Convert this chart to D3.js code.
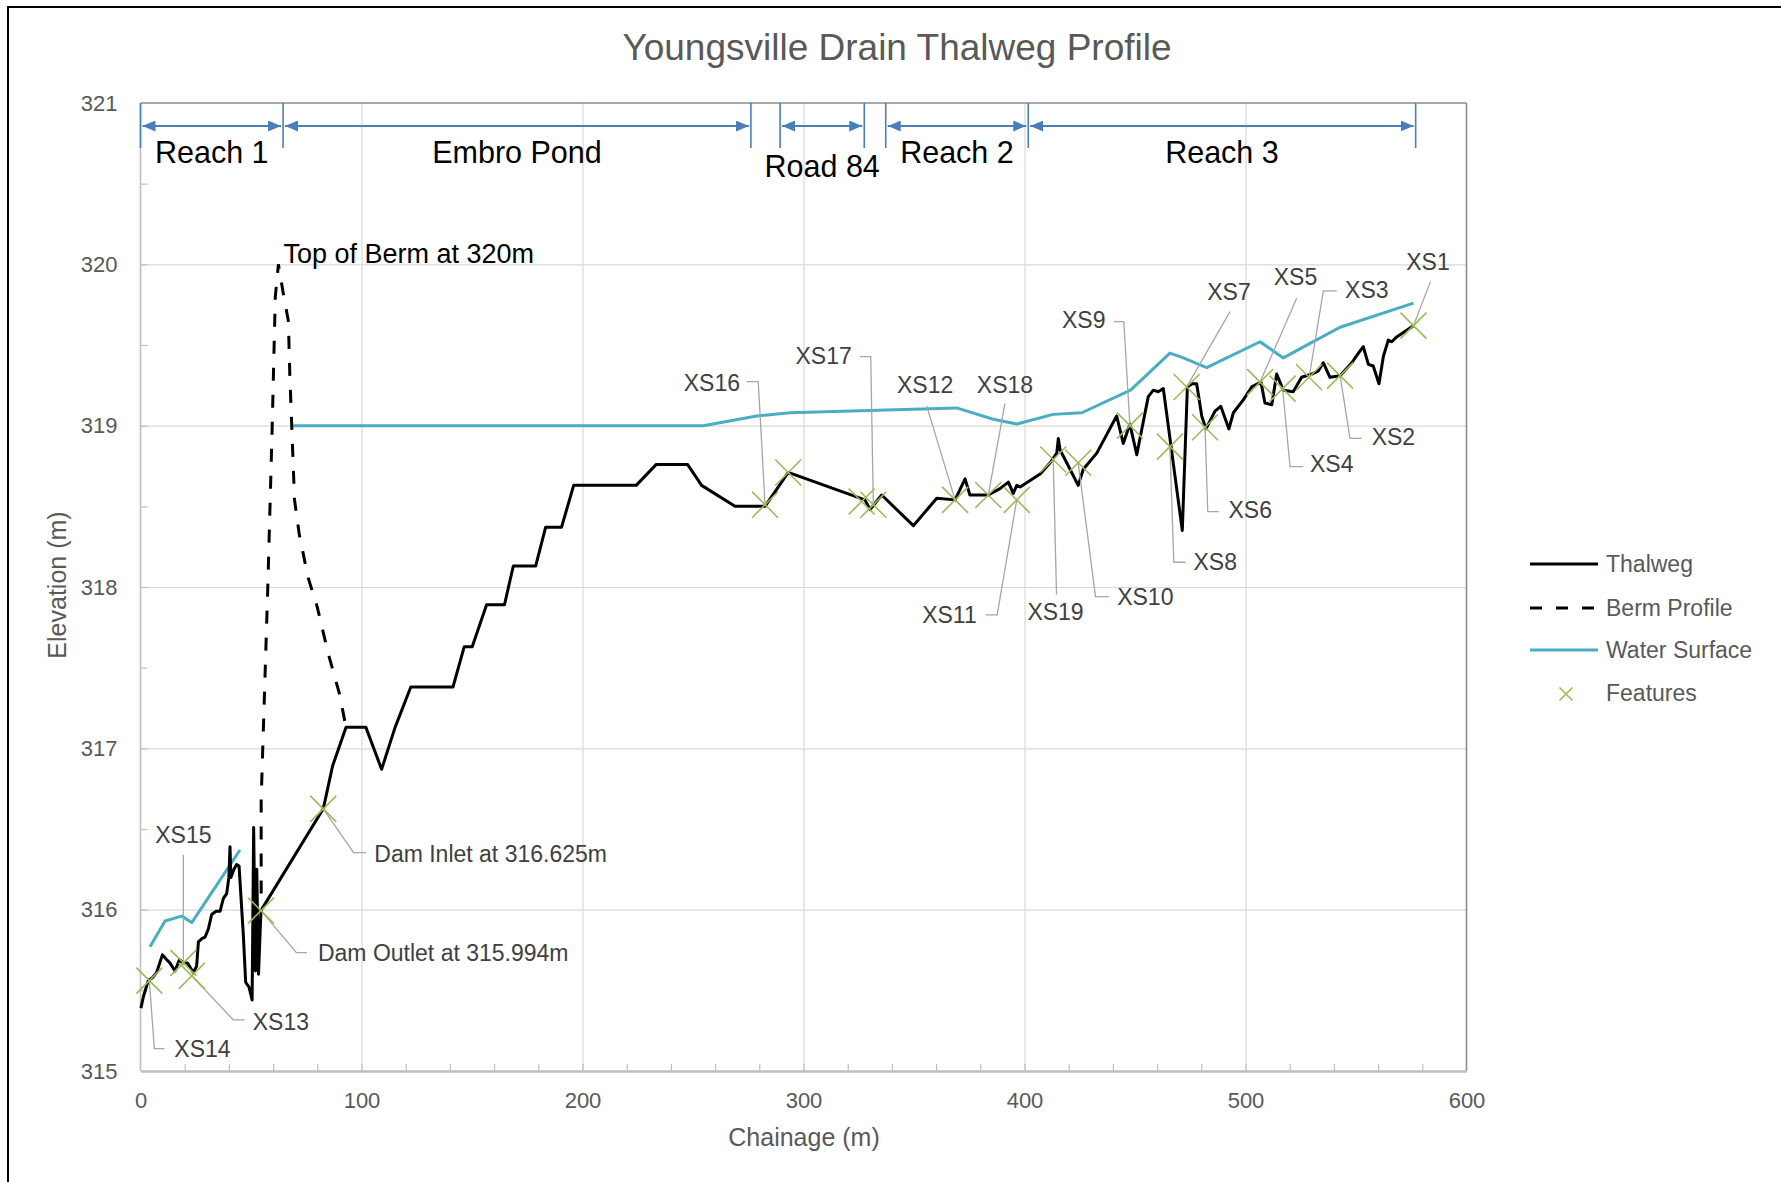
<!DOCTYPE html>
<html>
<head>
<meta charset="utf-8">
<script src="https://cdn.jsdelivr.net/npm/d3@7"></script>
<style>
  html, body { margin: 0; padding: 0; background: #fff; overflow: hidden; }
  svg { display: block; }
  text { font-family: "Liberation Sans", Arial, Helvetica, sans-serif; }
</style>
</head>
<body>
<svg id="chart" width="1781" height="1182"></svg>
<script>
// ---- Data -------------------------------------------------------------
// Thalweg (channel bed) profile: [chainage m, elevation m]
const thalweg = [
  [0.2,315.39],[1.3,315.46],[3.5,315.56],[5.5,315.58],[7.3,315.61],[9.9,315.72],
  [11.9,315.69],[13.3,315.67],[15.6,315.62],[17.6,315.69],[19.4,315.67],[21.2,315.67],
  [23.9,315.61],[25.4,315.65],[26.2,315.80],[27.7,315.82],[29.2,315.83],[30.7,315.88],
  [32.2,315.97],[34.2,315.99],[36.0,315.99],[37.5,316.07],[39.0,316.10],[40.0,316.20],
  [40.5,316.39],[40.9,316.20],[42.3,316.25],[43.5,316.28],[44.6,316.27],[46.5,315.85],
  [47.6,315.55],[49.1,315.52],[50.5,315.44],[51.2,316.51],[52.0,315.62],[52.6,316.25],
  [53.4,315.60],[54.5,315.994],[82.7,316.625],[86.9,316.89],[93.0,317.13],[102.0,317.13],
  [109.1,316.87],[115.2,317.13],[122.3,317.38],[141.4,317.38],[146.5,317.63],[150.1,317.63],
  [156.6,317.89],[164.7,317.89],[168.7,318.13],[178.8,318.13],[183.3,318.37],[190.5,318.37],
  [196.0,318.63],[224.3,318.63],[233.4,318.76],[247.5,318.76],[253.9,318.63],[269.0,318.50],
  [282.6,318.50],[293.1,318.71],[327.8,318.54],[330.1,318.48],[335.4,318.57],[349.7,318.38],
  [360.3,318.55],[368.6,318.54],[373.1,318.67],[375.3,318.57],[383.6,318.57],[388.9,318.61],
  [392.7,318.65],[394.9,318.58],[396.5,318.63],[398.0,318.62],[407.1,318.70],[411.6,318.77],
  [414.6,318.83],[415.3,318.92],[416.1,318.85],[419.1,318.77],[424.3,318.63],[426.6,318.73],
  [432.7,318.83],[441.7,319.06],[444.7,318.89],[447.7,319.01],[450.8,318.82],[456.0,319.18],
  [458.3,319.22],[460.5,319.21],[462.8,319.23],[471.4,318.35],[473.7,319.24],[475.7,319.26],
  [477.9,319.26],[480.2,319.06],[482.1,318.98],[486.2,319.09],[488.8,319.12],[492.5,318.98],
  [494.5,319.08],[499.0,319.16],[502.8,319.24],[507.0,319.27],[508.8,319.14],[511.9,319.13],
  [514.1,319.32],[517.1,319.22],[521.6,319.21],[525.4,319.30],[530.0,319.32],[533.0,319.34],
  [535.2,319.39],[538.2,319.30],[542.8,319.31],[548.1,319.39],[551.1,319.45],[553.3,319.49],
  [555.6,319.38],[557.8,319.37],[560.4,319.26],[562.4,319.43],[564.6,319.53],[566.2,319.52],
  [568.4,319.55],[576.0,319.62]
];

// Berm cross profile at Embro Pond dam: [chainage m, elevation m]
const bermProfile = [
  [54.6,316.10],[54.6,316.68],[57.6,318.00],[59.6,319.00],[61.0,319.80],[62.4,320.00],
  [64.6,319.82],[66.9,319.65],[67.6,319.30],[68.4,319.01],[69.7,318.54],[71.8,318.33],
  [75.8,318.06],[79.9,317.88],[84.9,317.59],[90.0,317.34],[93.0,317.13]
];
const bermTop = 320;

// Water surface, Reach 1 below the dam and the pond / upstream reaches
const waterReach1 = [[4.3,315.77],[11.1,315.93],[18.6,315.96],[23.2,315.92],[45.0,316.37]];
const waterUpstream = [
  [69.1,319.00],[254.7,319.00],[278.8,319.06],[293.9,319.08],[369.3,319.11],[385.9,319.04],
  [396.5,319.01],[413.0,319.07],[425.9,319.08],[448.0,319.22],[465.8,319.45],[471.9,319.42],
  [482.4,319.36],[506.6,319.52],[517.1,319.42],[529.2,319.51],[542.8,319.61],[576.0,319.76]
];

// Surveyed features (cross sections and dam structures)
const featureNames = ["XS14","XS15","XS13","Dam Outlet","Dam Inlet","XS16","","","XS17","XS12",
  "XS18","XS11","XS19","XS10","XS9","XS8","XS7","XS6","XS5","XS4","XS3","XS2","XS1"];
const featureChainage = [4.0,19.4,23.2,54.5,82.7,282.6,293.1,326.3,331.6,368.6,
  383.6,396.5,413.0,424.3,447.7,465.8,473.4,481.7,506.6,516.8,528.8,542.8,576.0];
const featureElevation = [315.56,315.67,315.59,315.994,316.625,318.51,318.71,318.53,318.51,318.54,
  318.57,318.54,318.79,318.77,319.00,318.87,319.24,318.99,319.27,319.23,319.30,319.31,319.62];

// Reaches along the drain
const reachNames = ["Reach 1","Embro Pond","Road 84","Reach 2","Reach 3"];
const reachStart = [0, 64.5, 289.4, 337.2, 401.7];
const reachEnd   = [64.5, 276.2, 327.5, 401.7, 577.0];

// Axis ticks
const xTicks = [0,100,200,300,400,500,600];
const yTicks = [315,316,317,318,319,320,321];
const xMinorStep = 20;
const yMinorStep = 0.5;

const legendItems = ["Thalweg","Berm Profile","Water Surface","Features"];

// ---- Layout & style ---------------------------------------------------
const W = 1781, H = 1182;
const plot = { left: 140.5, right: 1466.5, top: 103, bottom: 1071 };
const colors = {
  thalweg: "#000000", water: "#4bacc6", feature: "#9bbb59", reach: "#4a7ebb",
  grid: "#d9d9d9", axis: "#bfbfbf", frame: "#8c8c8c", text: "#595959", note: "#404040", leader: "#a6a6a6"
};

// Callout placement for each labelled feature (pixel offsets from the marker)
const callouts = {
  "XS14": { path: [[0,0],[5,68],[15,68]], text: [25,76], anchor: "start" },
  "XS15": { path: [[0,0],[0,-108]], text: [0,-120], anchor: "middle" },
  "XS13": { path: [[0,0],[41.5,44],[53,44]], text: [61,54], anchor: "start" },
  "Dam Outlet": { path: [[0,0],[35.5,42],[46,42]], text: [57,50], anchor: "start" },
  "Dam Inlet": { path: [[0,0],[30.3,43.8],[42.7,43.8]], text: [51,53], anchor: "start" },
  "XS16": { path: [[0,0],[-6.8,-123],[-18.4,-123]], text: [-25,-114], anchor: "end" },
  "XS17": { path: [[0,0],[-2.6,-148],[-13.3,-148]], text: [-21.6,-141], anchor: "end" },
  "XS12": { path: [[0,0],[-28.4,-94]], text: [-30,-106.6], anchor: "middle" },
  "XS18": { path: [[0,0],[16.7,-91.7]], text: [16.7,-101.7], anchor: "middle" },
  "XS11": { path: [[0,0],[-19.6,115],[-31.3,115]], text: [-40,123.3], anchor: "end" },
  "XS19": { path: [[0,0],[3.3,135]], text: [2.3,160.4], anchor: "middle" },
  "XS10": { path: [[0,0],[17.3,133.9],[30.6,133.9]], text: [39,142.2], anchor: "start" },
  "XS9":  { path: [[0,0],[-6.1,-104],[-16.1,-104]], text: [-24.4,-97.4], anchor: "end" },
  "XS8":  { path: [[0,0],[3.9,115.6],[15.6,115.6]], text: [23.6,123.3], anchor: "start" },
  "XS7":  { path: [[0,0],[43.3,-75.3]], text: [42.3,-87], anchor: "middle" },
  "XS6":  { path: [[0,0],[2.7,84.4],[13.7,84.4]], text: [23.4,91], anchor: "start" },
  "XS5":  { path: [[0,0],[36.6,-83.8]], text: [35.4,-97], anchor: "middle" },
  "XS4":  { path: [[0,0],[7.4,78],[20.7,78]], text: [27.4,83], anchor: "start" },
  "XS3":  { path: [[0,0],[14.2,-86.3],[27.6,-86.3]], text: [35.9,-79], anchor: "start" },
  "XS2":  { path: [[0,0],[9.9,62.7],[21.6,62.7]], text: [31.6,69.4], anchor: "start" },
  "XS1":  { path: [[0,0],[17,-44]], text: [14.5,-55.6], anchor: "middle" }
};

// ---- Scales -----------------------------------------------------------
const x = d3.scaleLinear().domain([xTicks[0], xTicks[xTicks.length-1]]).range([plot.left, plot.right]);
const y = d3.scaleLinear().domain([yTicks[0], yTicks[yTicks.length-1]]).range([plot.bottom, plot.top]);
const plotH = plot.bottom - plot.top, plotW = plot.right - plot.left;

const svg = d3.select("#chart");

// outer chart frame
svg.append("rect").attr("x", 8).attr("y", 7).attr("width", W + 20).attr("height", H + 20)
  .attr("fill", "#fff").attr("stroke", "#000").attr("stroke-width", 2);

// title
svg.append("text").attr("x", 897).attr("y", 60).attr("text-anchor", "middle")
  .attr("font-size", 37).attr("fill", colors.text).text("Youngsville Drain Thalweg Profile");

// ---- Grid and axes ----------------------------------------------------
const vGrid = svg.append("g").attr("transform", `translate(0,${plot.bottom})`)
  .call(d3.axisBottom(x).tickValues(xTicks.slice(1, -1)).tickSize(-plotH).tickFormat(""));
vGrid.select(".domain").remove();
vGrid.selectAll("line").attr("stroke", colors.grid).attr("stroke-width", 1.2);

const hGrid = svg.append("g").attr("transform", `translate(${plot.left},0)`)
  .call(d3.axisLeft(y).tickValues(yTicks.slice(1, -1)).tickSize(-plotW).tickFormat(""));
hGrid.select(".domain").remove();
hGrid.selectAll("line").attr("stroke", colors.grid).attr("stroke-width", 1.2);

// minor tick marks inside the plot
const xMinor = d3.range(xTicks[0] + xMinorStep, xTicks[xTicks.length-1], xMinorStep);
const xm = svg.append("g").attr("transform", `translate(0,${plot.bottom})`)
  .call(d3.axisBottom(x).tickValues(xMinor).tickSize(-7).tickFormat(""));
xm.select(".domain").remove();
xm.selectAll("line").attr("stroke", colors.axis).attr("stroke-width", 1.2);

const yMinor = d3.range(yTicks[0] + yMinorStep, yTicks[yTicks.length-1], yMinorStep);
const ym = svg.append("g").attr("transform", `translate(${plot.left},0)`)
  .call(d3.axisLeft(y).tickValues(yMinor).tickSize(-7).tickFormat(""));
ym.select(".domain").remove();
ym.selectAll("line").attr("stroke", colors.axis).attr("stroke-width", 1.2);

// plot borders
svg.append("line").attr("x1", plot.left).attr("x2", plot.right).attr("y1", plot.top).attr("y2", plot.top)
  .attr("stroke", colors.frame).attr("stroke-width", 1.6);
svg.append("line").attr("x1", plot.right).attr("x2", plot.right).attr("y1", plot.top).attr("y2", plot.bottom)
  .attr("stroke", colors.frame).attr("stroke-width", 1.6);
svg.append("line").attr("x1", plot.left).attr("x2", plot.left).attr("y1", plot.top).attr("y2", plot.bottom)
  .attr("stroke", colors.axis).attr("stroke-width", 1.6);

// axis labels
const xAxis = svg.append("g").attr("transform", `translate(0,${plot.bottom})`)
  .call(d3.axisBottom(x).tickValues(xTicks).tickSize(0).tickPadding(21).tickFormat(d3.format("d")));
xAxis.select(".domain").attr("stroke", colors.axis).attr("stroke-width", 2.6);
xAxis.selectAll("text").attr("font-size", 22).attr("fill", colors.text)
  .style("font-family", '"Liberation Sans", Arial, sans-serif');

const yAxis = svg.append("g").attr("transform", `translate(${plot.left},0)`)
  .call(d3.axisLeft(y).tickValues(yTicks).tickSize(0).tickPadding(23).tickFormat(d3.format("d")));
yAxis.select(".domain").remove();
yAxis.selectAll("text").attr("font-size", 22).attr("fill", colors.text)
  .style("font-family", '"Liberation Sans", Arial, sans-serif');

svg.append("text").attr("x", 804).attr("y", 1146).attr("text-anchor", "middle")
  .attr("font-size", 25).attr("fill", colors.text).text("Chainage (m)");
svg.append("text").attr("transform", "translate(66,585) rotate(-90)").attr("text-anchor", "middle")
  .attr("font-size", 25).attr("fill", colors.text).text("Elevation (m)");

// ---- Reach extents ----------------------------------------------------
const defs = svg.append("defs");
defs.append("marker").attr("id", "arrow").attr("viewBox", "0 0 13 11")
  .attr("refX", 13).attr("refY", 5.5).attr("markerWidth", 13).attr("markerHeight", 11)
  .attr("markerUnits", "userSpaceOnUse").attr("orient", "auto-start-reverse")
  .append("path").attr("d", "M0,0 L13,5.5 L0,11 Z").attr("fill", colors.reach);

const reaches = reachNames.map((n, i) => ({ name: n, start: reachStart[i], end: reachEnd[i] }));
const rg = svg.append("g");
const bounds = Array.from(new Set(reaches.flatMap(r => [r.start, r.end])));
rg.selectAll("line.bound").data(bounds).join("line")
  .attr("x1", d => x(d)).attr("x2", d => x(d)).attr("y1", plot.top).attr("y2", 148)
  .attr("stroke", colors.reach).attr("stroke-width", 1.6);
rg.selectAll("line.span").data(reaches).join("line")
  .attr("x1", d => x(d.start) + 2).attr("x2", d => x(d.end) - 2)
  .attr("y1", 126).attr("y2", 126)
  .attr("stroke", colors.reach).attr("stroke-width", 2.2)
  .attr("marker-start", "url(#arrow)").attr("marker-end", "url(#arrow)");
rg.selectAll("text").data(reaches).join("text")
  .attr("x", d => (x(d.start) + x(d.end)) / 2)
  .attr("y", d => (x(d.end) - x(d.start)) < 110 ? 177 : 163)
  .attr("text-anchor", "middle").attr("font-size", 30.5).attr("fill", "#000")
  .text(d => d.name);

// ---- Series -----------------------------------------------------------
const line = d3.line().x(d => x(d[0])).y(d => y(d[1]));

svg.append("path").datum(waterReach1).attr("d", line)
  .attr("fill", "none").attr("stroke", colors.water).attr("stroke-width", 3).attr("stroke-linejoin", "round");
svg.append("path").datum(waterUpstream).attr("d", line)
  .attr("fill", "none").attr("stroke", colors.water).attr("stroke-width", 3).attr("stroke-linejoin", "round");

svg.append("path").datum(bermProfile).attr("d", line)
  .attr("fill", "none").attr("stroke", "#000").attr("stroke-width", 3)
  .attr("stroke-dasharray", "13,14");

svg.append("path").datum(thalweg).attr("d", line)
  .attr("fill", "none").attr("stroke", colors.thalweg).attr("stroke-width", 3)
  .attr("stroke-linejoin", "round");

// top of berm note
const bermPeak = bermProfile.find(d => d[1] === bermTop);
svg.append("text").attr("x", x(bermPeak[0]) + 5).attr("y", y(bermTop) - 1)
  .attr("font-size", 27).attr("fill", "#000").text(`Top of Berm at ${bermTop}m`);

// feature markers and callouts
const features = featureNames.map((n, i) => ({ name: n, c: featureChainage[i], e: featureElevation[i] }));
const fmt3 = d3.format(".3f");
const labelText = f => f.name.startsWith("Dam") ? `${f.name} at ${fmt3(f.e)}m` : f.name;

const cg = svg.append("g");
features.filter(f => callouts[f.name]).forEach(f => {
  const c = callouts[f.name], px = x(f.c), py = y(f.e);
  cg.append("path")
    .attr("d", d3.line()(c.path.map(p => [px + p[0], py + p[1]])))
    .attr("fill", "none").attr("stroke", colors.leader).attr("stroke-width", 1.3);
  cg.append("text").attr("x", px + c.text[0]).attr("y", py + c.text[1])
    .attr("text-anchor", c.anchor).attr("font-size", 23).attr("fill", colors.note)
    .text(labelText(f));
});

const cross = (g, s) => g.attr("d", `M${-s},${-s}L${s},${s}M${-s},${s}L${s},${-s}`);
svg.append("g").selectAll("path").data(features).join("path")
  .attr("transform", d => `translate(${x(d.c)},${y(d.e)})`)
  .call(cross, 13)
  .attr("fill", "none").attr("stroke", colors.feature).attr("stroke-width", 1.6);

// ---- Legend -----------------------------------------------------------
const lg = svg.append("g");
const legendY = [564, 608, 650, 693];
legendItems.forEach((name, i) => {
  const yy = legendY[i];
  if (name === "Features") {
    lg.append("path").attr("transform", `translate(1566,${yy + 1})`).call(cross, 6.5)
      .attr("fill", "none").attr("stroke", colors.feature).attr("stroke-width", 1.6);
  } else {
    lg.append("line").attr("x1", 1530).attr("x2", 1598).attr("y1", yy).attr("y2", yy)
      .attr("stroke", name === "Water Surface" ? colors.water : "#000")
      .attr("stroke-width", 3)
      .attr("stroke-dasharray", name === "Berm Profile" ? "12,14" : null);
  }
  lg.append("text").attr("x", 1606).attr("y", yy + 8).attr("font-size", 23)
    .attr("fill", colors.text).text(name);
});
</script>
</body>
</html>
